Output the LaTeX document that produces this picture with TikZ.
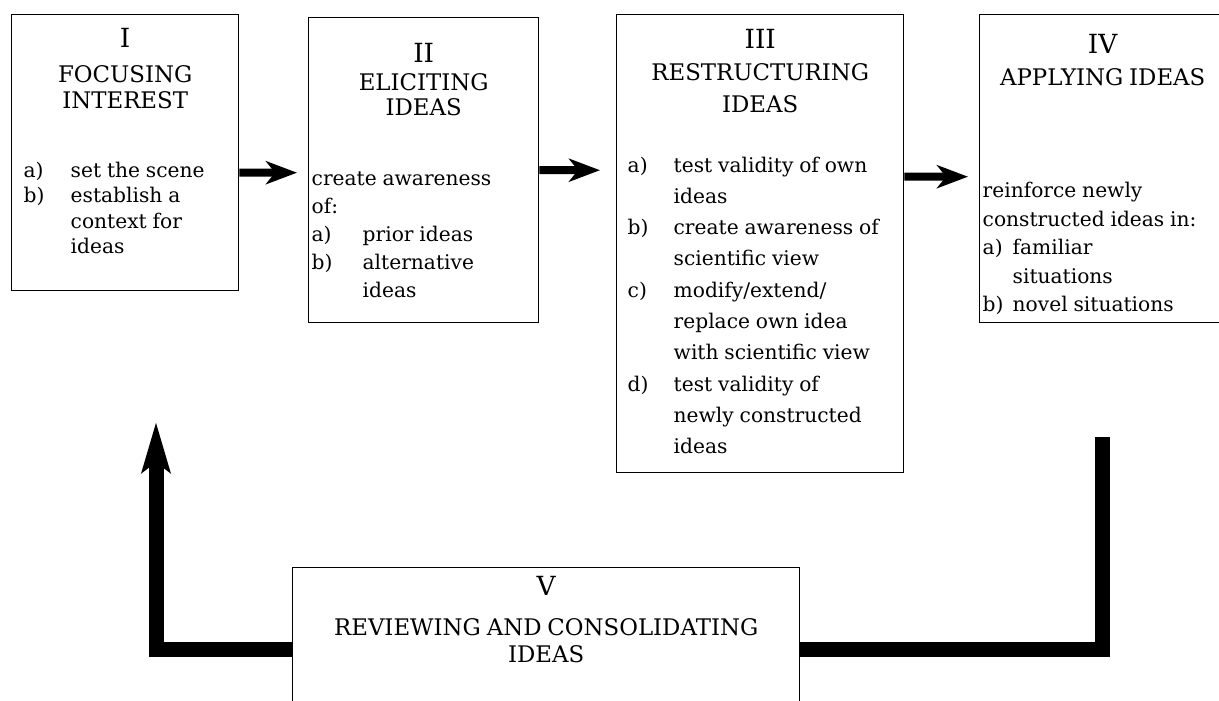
\documentclass[tikz,border=0pt]{standalone}
\usepackage{fontspec}
\setmainfont{DejaVu Serif}
\usetikzlibrary{arrows.meta}

\newcommand\stagenum{\fontsize{15}{18}\selectfont}
\newcommand\stagehead[1]{\fontsize{13}{#1}\selectfont}
\newcommand\stagebody[1]{\fontsize{11.5}{#1}\selectfont}

\tikzset{
  stage/.style={draw, line width=0.8pt, anchor=north west, inner ysep=0pt},
  stagearrow/.style={line width=1.6mm, -{Stealth[length=6.2mm,width=4.6mm,inset=1.8mm]}},
  backline/.style={line width=3mm},
}

\begin{document}
\begin{tikzpicture}[x=0.2mm, y=-0.2mm]
\useasboundingbox (0,0) rectangle (1219,701);
\clip (0,0) rectangle (1219,701);

\node[stage, inner xsep=2.4mm, text width=40.6mm, text height=6.6mm, text depth=48.6mm] (focus) at (11,14) {
{\centering\stagenum I\\[5.1pt]
\stagehead{14.8pt}FOCUSING\\INTEREST\par}
\vspace{24.8pt}
\stagebody{14.4pt}\noindent
\begin{tabular}[t]{@{}p{9.4mm}@{}l@{}}
a) & set the scene\\
b) & establish a\\
   & context for\\
   & ideas
\end{tabular}\par};

\node[stage, inner xsep=0.6mm, text width=44.8mm, text height=9mm, text depth=52mm] (elicit) at (308,17) {
{\centering\stagenum II\\[1.7pt]
\stagehead{14.2pt}ELICITING\\IDEAS\par}
\vspace{23.9pt}
\stagebody{15.9pt}\noindent
\begin{tabular}[t]{@{}p{10.2mm}@{}l@{}}
\multicolumn{2}{@{}l@{}}{create awareness}\\
\multicolumn{2}{@{}l@{}}{of:}\\
a) & prior ideas\\
b) & alternative\\
   & ideas
\end{tabular}\par};

\node[stage, inner xsep=2.2mm, text width=53mm, text height=6.8mm, text depth=84.8mm] (restructure) at (616,14) {
{\centering\stagenum III\\
\stagehead{18.2pt}RESTRUCTURING\\IDEAS\par}
\vspace{16pt}
\stagebody{17.8pt}\noindent
\begin{tabular}[t]{@{}p{9.2mm}@{}l@{}}
a) & test validity of own\\
   & ideas\\
b) & create awareness of\\
   & scientific view\\
c) & modify/extend/\\
   & replace own idea\\
   & with scientific view\\
d) & test validity of\\
   & newly constructed\\
   & ideas
\end{tabular}\par};

\node[stage, inner xsep=0.6mm, text width=48mm, text height=7.8mm, text depth=53.8mm] (apply) at (979,14) {
{\centering\stagenum IV\\
\stagehead{18.2pt}APPLYING IDEAS\par}
\vspace{47.5pt}
\stagebody{16.2pt}\noindent
\begin{tabular}[t]{@{}p{6mm}@{}l@{}}
\multicolumn{2}{@{}l@{}}{reinforce newly}\\
\multicolumn{2}{@{}l@{}}{constructed ideas in:}\\
a) & familiar\\
   & situations\\
b) & novel situations
\end{tabular}\par};

\node[stage, inner xsep=2mm, text width=97.4mm, text height=5.6mm, text depth=33mm] (review) at (292,567) {
{\centering\stagenum V\\[7.4pt]
\stagehead{15.3pt}REVIEWING AND CONSOLIDATING\\IDEAS\par}};

\draw[stagearrow] ([yshift=-4mm]focus.east) -- ([xshift=-2.2mm,yshift=-0.5mm]elicit.west);
\draw[stagearrow] (elicit.east) -- ([xshift=-3.2mm,yshift=14.7mm]restructure.west);
\draw[stagearrow] ([yshift=13.4mm]restructure.east) -- ([xshift=-2.2mm,yshift=-1.6mm]apply.west);

\coordinate (backtip) at (156,422);
\draw[backline] ([yshift=-22.8mm]apply.south) |- ([yshift=2.9mm]review.east);
\draw[backline, -{Stealth[length=10mm,width=5.6mm,inset=2mm]}] ([yshift=2.9mm]review.west) -| (backtip);
\end{tikzpicture}
\end{document}
